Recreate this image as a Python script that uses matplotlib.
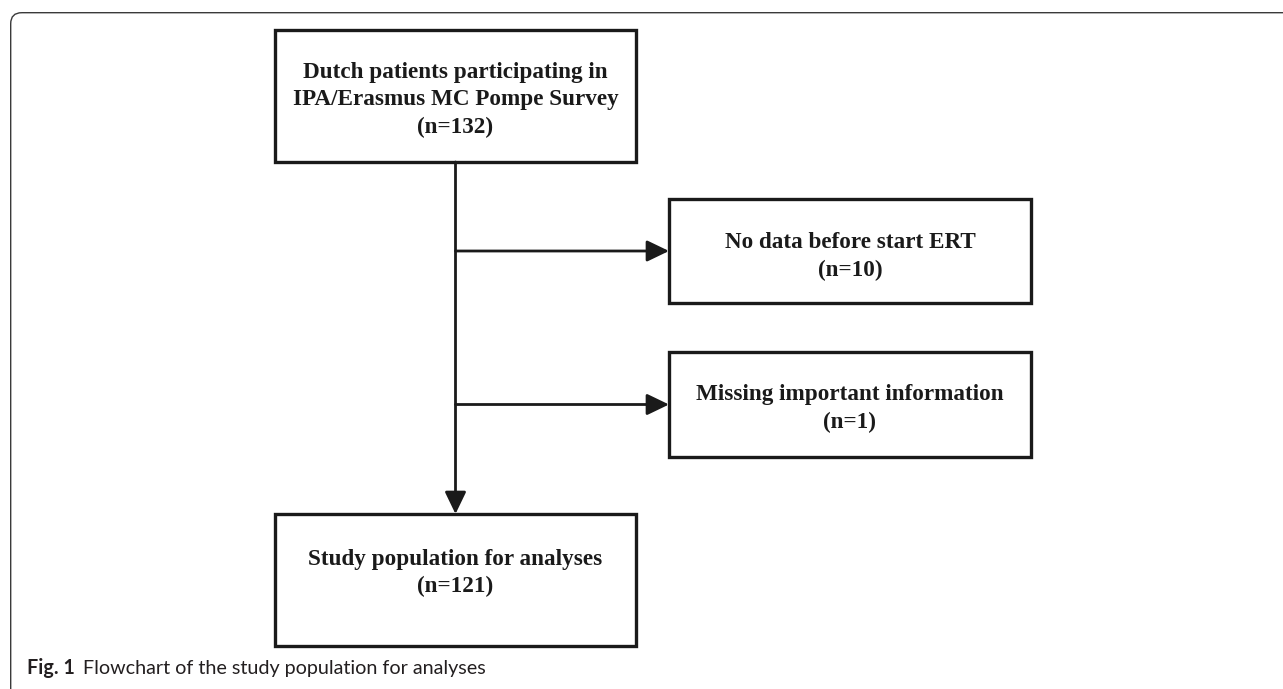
"""
Flowchart of the study population (Dutch Pompe survey)
"""
import matplotlib
matplotlib.use("Agg")
import matplotlib.pyplot as plt
from matplotlib.patches import Rectangle, FancyBboxPatch, FancyArrowPatch

# 数据
box_labels = [
    "Dutch patients participating in\nIPA/Erasmus MC Pompe Survey",
    "No data before start ERT",
    "Missing important information",
    "Study population for analyses",
]
box_counts = [132, 10, 1, 121]
caption_bold = "Fig. 1"
caption_text = "Flowchart of the study population for analyses"

# 布局 (像素坐标, y 向下)
W, H = 1283, 689
main_x = (275, 636)
side_x = (669, 1031)
box_y = [(30, 162), (199, 303), (352, 457), (514, 646)]
text_y = [100, 256.5, 408.5, 573]
INK = "#1a1a1a"


def main():
    fig = plt.figure(figsize=(W / 100, H / 100), dpi=100)
    ax = fig.add_axes([0, 0, 1, 1])
    ax.set_xlim(0, W)
    ax.set_ylim(H, 0)
    ax.axis("off")

    # 外框 (左上圆角)
    frame = FancyBboxPatch((10.7, 12.7), W + 100, H + 100,
                           boxstyle="round,pad=0,rounding_size=11",
                           fill=False, ec="#3a3a3a", lw=1.0)
    ax.add_patch(frame)

    xs = [main_x, side_x, side_x, main_x]
    for i, (label, n) in enumerate(zip(box_labels, box_counts)):
        x0, x1 = xs[i]
        y0, y1 = box_y[i]
        ax.add_patch(Rectangle((x0, y0), x1 - x0, y1 - y0, fill=False,
                               ec=INK, lw=2.4, joinstyle="miter"))
        ax.text((x0 + x1) / 2, text_y[i], f"{label}\n(n={n})",
                ha="center", va="center", family="Liberation Serif",
                weight="bold", size=16.7, color=INK, linespacing=1.42)

    cx = (main_x[0] + main_x[1]) / 2
    arrow_kw = dict(arrowstyle="-|>,head_length=13.5,head_width=6.5",
                    mutation_scale=1, color=INK, lw=2.0,
                    shrinkA=0, shrinkB=0)
    # 主干
    ax.add_patch(FancyArrowPatch((cx, box_y[0][1]), (cx, box_y[3][0]), **arrow_kw))
    # 排除分支
    for i in (1, 2):
        ym = (box_y[i][0] + box_y[i][1]) / 2
        ax.add_patch(FancyArrowPatch((cx, ym), (side_x[0], ym), **arrow_kw))

    # 图注
    t1 = ax.text(27, 674, caption_bold, ha="left", va="baseline",
                 family="Lato", weight="bold", size=14.2, color="#231f20")
    fig.canvas.draw()
    bb = t1.get_window_extent()
    x_end = ax.transData.inverted().transform((bb.x1, bb.y0))[0]
    ax.text(x_end + 8, 674, caption_text, ha="left", va="baseline",
            family="Lato", size=14.2, color="#231f20")

    fig.savefig("out.png", dpi=100)


if __name__ == "__main__":
    main()
